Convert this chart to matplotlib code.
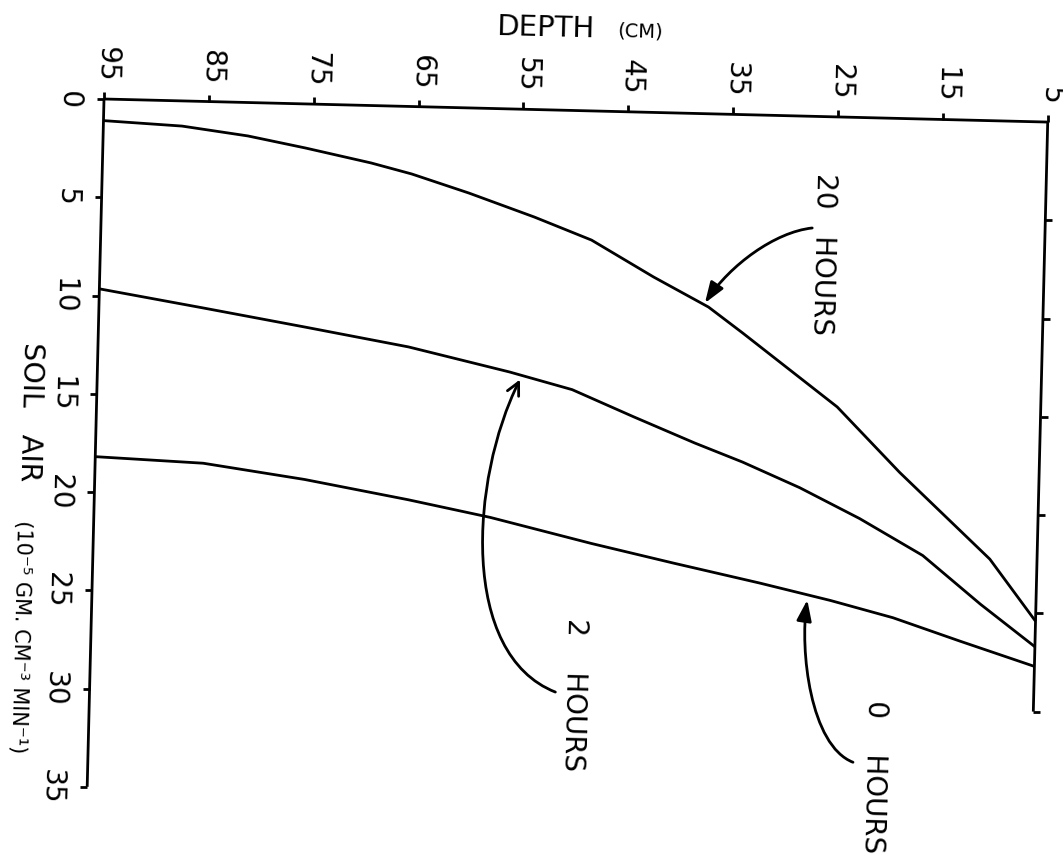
import matplotlib
matplotlib.use("Agg")
import matplotlib.pyplot as plt
from matplotlib.transforms import Affine2D
from matplotlib.path import Path
from matplotlib.patches import FancyArrowPatch

# ---- data: soil-air flux profiles (depth in cm, flux in 1e-5 g cm^-3 min^-1)
depth_20h = [95, 87.5, 81.2, 75.7, 69.4, 65.5, 60.0, 53.7, 48.2, 42.2, 36.9, 33.6, 24.4, 18.3, 9.5, 5]
air_20h = [1.1, 1.28, 1.70, 2.24, 2.92, 3.43, 4.33, 5.47, 6.57, 8.37, 9.83, 11.1, 14.75, 18.0, 22.3, 25.4]

depth_2h = [95, 85.1, 75.3, 65.4, 55.7, 49.7, 43.8, 37.9, 33.3, 27.8, 22.0, 15.9, 10.3, 5]
air_2h = [9.66, 10.5, 11.35, 12.23, 13.38, 14.2, 15.5, 16.76, 17.67, 18.9, 20.4, 22.2, 24.6, 26.7]

depth_0h = [95, 84.7, 75.0, 65.1, 57.2, 47.5, 39.6, 31.4, 24.6, 18.6, 12.2, 5]
air_0h = [18.2, 18.4, 19.1, 20.0, 20.8, 22.0, 22.9, 23.8, 24.6, 25.4, 26.5, 27.7]

depth_ticks = [95, 85, 75, 65, 55, 45, 35, 25, 15, 5]
air_ticks_left = [0, 5, 10, 15, 20, 25, 30, 35]
air_ticks_right = [5, 10, 15, 20, 25, 30]

# curve labels: text, text centre, arrow control points (depth, air), head style
labels = [
    ("20   HOURS", (26.1, 6.99),
     [(27.2, 5.68), (30.75, 5.93), (34.95, 7.67), (37.25, 9.63)], "-|>"),
    ("2    HOURS", (48.8, 29.7),
     [(50.6, 29.6), (59.8, 27.8), (59.2, 18.9), (54.7, 13.75)], "->"),
    ("0    HOURS", (20.0, 33.5),
     [(22.07, 32.8), (26.2, 32.0), (27.4, 27.15), (26.8, 24.6)], "-|>"),
]

W, H = 1063, 863
TILT = -1.4          # the sheet sits slightly skewed
LW = 2.0
INK = "black"
plt.rcParams["font.family"] = ["DejaVu Sans"]

fig = plt.figure(figsize=(W / 100, H / 100), dpi=100)
fig.patch.set_facecolor("white")
ax = fig.add_axes([104 / W, (H - 99 - 688) / H, 944 / W, 688 / H])
ax.set_xlim(max(depth_ticks), min(depth_ticks))
ax.set_ylim(max(air_ticks_left), min(air_ticks_left))
ax.set_autoscale_on(False)
ax.axis("off")

px0, py0 = ax.transData.transform((max(depth_ticks), 0))
tr = ax.transData + Affine2D().rotate_deg_around(px0, py0, TILT)
rot_v = -90 + TILT
rot_h = TILT

common = dict(transform=tr, clip_on=False, color=INK, lw=LW, solid_capstyle="butt")

# frame: top (depth) axis, left (air) axis, right edge at 5 cm
d_lo, d_hi = min(depth_ticks), max(depth_ticks)
ax.plot([d_hi, d_lo], [0, 0], **common)
ax.plot([d_hi, d_hi], [0, max(air_ticks_left)], **common)
ax.plot([d_lo, d_lo], [0, max(air_ticks_right)], **common)

mk = dict(transform=tr, clip_on=False, ls="none", color=INK, ms=5, mew=LW)
ax.plot(depth_ticks, [0] * len(depth_ticks), marker=2, **mk)
ax.plot([d_hi] * len(air_ticks_left), air_ticks_left, marker=0, **mk)
ax.plot([d_lo] * len(air_ticks_right), air_ticks_right, marker=1, **mk)

# tick labels
for d in depth_ticks:
    ax.annotate(f"{d}", xy=(d, 0), xycoords=tr, xytext=(2, 12),
                textcoords="offset points", rotation=rot_v,
                ha="center", va="bottom", fontsize=20, color=INK)
for a in air_ticks_left:
    ax.annotate(f"{a}", xy=(d_hi, a), xycoords=tr, xytext=(-15, 0),
                textcoords="offset points", rotation=rot_v,
                ha="right", va="center", fontsize=20, color=INK)

# axis titles
ax.text(53.1, -4.16, "DEPTH", transform=tr, rotation=rot_h,
        ha="center", va="center", fontsize=21, color=INK)
ax.text(44.0, -4.12, "(CM)", transform=tr, rotation=rot_h,
        ha="center", va="center", fontsize=14, color=INK)
ax.text(101.3, 16.0, "SOIL   AIR", transform=tr, rotation=rot_v,
        ha="center", va="center", fontsize=20.5, color=INK)
ax.text(101.7, 27.46, "(10\u207b\u2075 GM. CM\u207b\u00b3 MIN\u207b\u00b9)", transform=tr,
        rotation=rot_v, ha="center", va="center", fontsize=15, color=INK)

# profiles
for dep, air in [(depth_20h, air_20h), (depth_2h, air_2h), (depth_0h, air_0h)]:
    ax.plot(dep, air, **common)

# curve labels with curved leader arrows
for text, (tx, ty), ctrl, style in labels:
    ax.text(tx, ty, text, transform=tr, rotation=rot_v,
            ha="center", va="center", fontsize=20, color=INK)
    path = Path(ctrl, [Path.MOVETO, Path.CURVE4, Path.CURVE4, Path.CURVE4])
    if style == "-|>":
        astyle = "-|>,head_length=0.7,head_width=0.25"
    else:
        astyle = "->,head_length=0.5,head_width=0.25"
    arrow = FancyArrowPatch(path=path, arrowstyle=astyle, mutation_scale=18,
                            lw=LW, color=INK, transform=tr, clip_on=False)
    ax.add_artist(arrow)

fig.savefig("out.png", dpi=100, facecolor="white")
